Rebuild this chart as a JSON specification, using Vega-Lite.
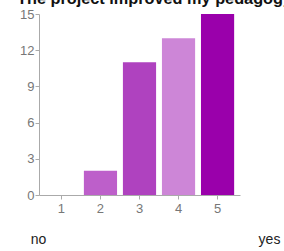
{
  "$schema": "https://vega.github.io/schema/vega-lite/v6.json",
  "autosize": {"type": "none"},
  "padding": {"left": 39, "top": 14, "right": 44, "bottom": 56},
  "width": 201,
  "height": 181,
  "background": "white",
  "title": {
    "text": "The project improved my pedagogy",
    "anchor": "start",
    "frame": "group",
    "dx": -22,
    "offset": 1,
    "font": "Liberation Sans",
    "fontSize": 16.3,
    "fontWeight": "bold",
    "color": "#111111"
  },
  "config": {
    "view": {"stroke": null},
    "axis": {"grid": false, "labelFont": "Liberation Sans", "titleFont": "Liberation Sans"}
  },
  "layer": [
    {
      "data": {"values": [
        {"rating": "1", "count": 0, "c": "c1"},
        {"rating": "2", "count": 2, "c": "c2"},
        {"rating": "3", "count": 11, "c": "c3"},
        {"rating": "4", "count": 13, "c": "c4"},
        {"rating": "5", "count": 15, "c": "c5"}
      ]},
      "mark": {"type": "bar"},
      "encoding": {
        "x": {
          "field": "rating", "type": "ordinal",
          "scale": {"paddingInner": 0.15, "paddingOuter": 0.15},
          "axis": {"title": null, "labelAngle": 0, "labelFontSize": 13, "labelColor": "#777777",
                   "domainColor": "#aaaaaa", "tickColor": "#aaaaaa", "tickSize": 4, "labelPadding": 3}
        },
        "y": {
          "field": "count", "type": "quantitative",
          "scale": {"domain": [0, 15]},
          "axis": {"title": null, "values": [0, 3, 6, 9, 12, 15], "labelFontSize": 13, "labelColor": "#777777",
                   "domainColor": "#aaaaaa", "tickColor": "#aaaaaa", "tickSize": 4, "labelPadding": 1}
        },
        "color": {
          "field": "c", "type": "nominal", "legend": null,
          "scale": {"domain": ["c1", "c2", "c3", "c4", "c5"],
                    "range": ["#bb55cc", "#bd5fca", "#af42bf", "#cd86d7", "#9a00ab"]}
        }
      }
    },
    {
      "data": {"values": [{"end": "no"}, {"end": "yes"}]},
      "mark": {"type": "point", "opacity": 0},
      "encoding": {
        "x": {
          "field": "end", "type": "nominal",
          "scale": {"type": "point", "domain": ["no", "yes"], "range": [-1, 230], "padding": 0},
          "axis": {"orient": "bottom", "title": null, "domain": false, "ticks": false, "labelAngle": 0,
                   "labelFontSize": 14, "labelColor": "#222222", "offset": 37, "labelPadding": 0}
        }
      }
    }
  ],
  "resolve": {"scale": {"x": "independent"}, "axis": {"x": "independent"}}
}
